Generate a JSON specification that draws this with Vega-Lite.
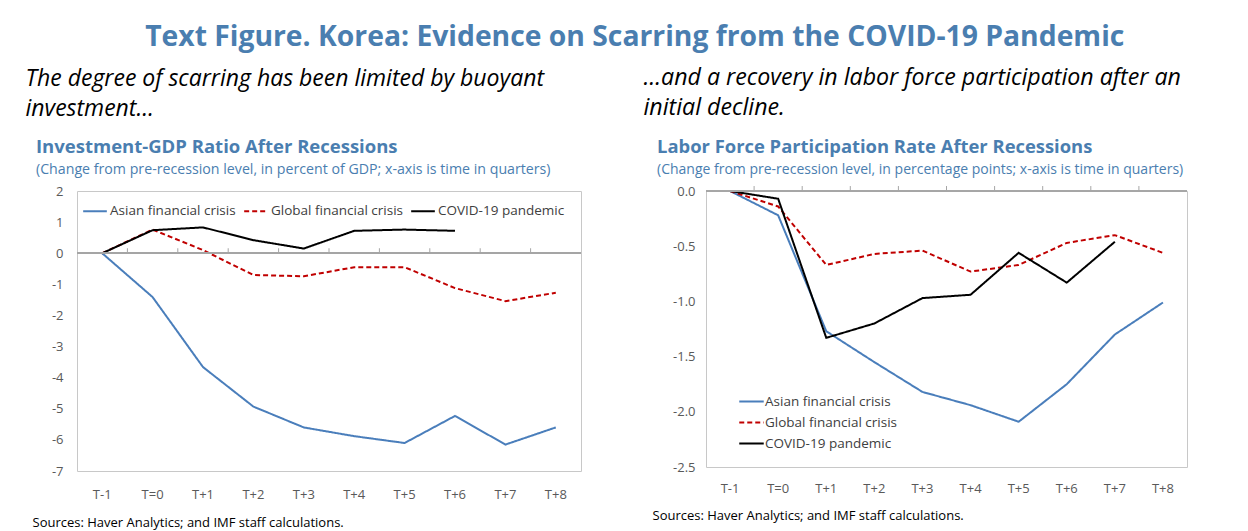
{
  "$schema": "https://vega.github.io/schema/vega-lite/v6.json",
  "background": "white",
  "padding": {"left": 25, "top": 22, "right": 5, "bottom": 0},
  "title": {
    "text": "Text Figure. Korea: Evidence on Scarring from the COVID-19 Pandemic",
    "anchor": "middle",
    "font": "Open Sans",
    "fontSize": 28.3,
    "fontWeight": "bold",
    "color": "#4A7EB0",
    "offset": 14,
    "dx": 28
  },
  "config": {
    "locale": {"number": {"decimal": ".", "thousands": ",", "grouping": [3], "currency": ["$", ""], "minus": "-"}},
    "view": {"stroke": "#c8c8c8", "strokeWidth": 1},
    "font": "Open Sans",
    "axis": {"grid": false, "labelFont": "Open Sans", "labelColor": "#595959", "labelFontSize": 13, "titleFont": "Open Sans", "labelOverlap": false},
    "legend": {"labelFont": "Open Sans", "labelFontSize": 13.5, "labelColor": "#404040"}
  },
  "datasets": {
    "inv": [
      {"t": "T-1", "s": "Asian financial crisis", "v": 0},
      {"t": "T=0", "s": "Asian financial crisis", "v": -1.41},
      {"t": "T+1", "s": "Asian financial crisis", "v": -3.66},
      {"t": "T+2", "s": "Asian financial crisis", "v": -4.93},
      {"t": "T+3", "s": "Asian financial crisis", "v": -5.6},
      {"t": "T+4", "s": "Asian financial crisis", "v": -5.88},
      {"t": "T+5", "s": "Asian financial crisis", "v": -6.1},
      {"t": "T+6", "s": "Asian financial crisis", "v": -5.23},
      {"t": "T+7", "s": "Asian financial crisis", "v": -6.15},
      {"t": "T+8", "s": "Asian financial crisis", "v": -5.6},
      {"t": "T-1", "s": "Global financial crisis", "v": 0},
      {"t": "T=0", "s": "Global financial crisis", "v": 0.76},
      {"t": "T+1", "s": "Global financial crisis", "v": 0.1},
      {"t": "T+2", "s": "Global financial crisis", "v": -0.7},
      {"t": "T+3", "s": "Global financial crisis", "v": -0.74},
      {"t": "T+4", "s": "Global financial crisis", "v": -0.45},
      {"t": "T+5", "s": "Global financial crisis", "v": -0.45},
      {"t": "T+6", "s": "Global financial crisis", "v": -1.12},
      {"t": "T+7", "s": "Global financial crisis", "v": -1.54},
      {"t": "T+8", "s": "Global financial crisis", "v": -1.27},
      {"t": "T-1", "s": "COVID-19 pandemic", "v": 0},
      {"t": "T=0", "s": "COVID-19 pandemic", "v": 0.74},
      {"t": "T+1", "s": "COVID-19 pandemic", "v": 0.83},
      {"t": "T+2", "s": "COVID-19 pandemic", "v": 0.42},
      {"t": "T+3", "s": "COVID-19 pandemic", "v": 0.15},
      {"t": "T+4", "s": "COVID-19 pandemic", "v": 0.72},
      {"t": "T+5", "s": "COVID-19 pandemic", "v": 0.76},
      {"t": "T+6", "s": "COVID-19 pandemic", "v": 0.72}
    ],
    "lfp": [
      {"t": "T-1", "s": "Asian financial crisis", "v": 0},
      {"t": "T=0", "s": "Asian financial crisis", "v": -0.22},
      {"t": "T+1", "s": "Asian financial crisis", "v": -1.27},
      {"t": "T+2", "s": "Asian financial crisis", "v": -1.55},
      {"t": "T+3", "s": "Asian financial crisis", "v": -1.82},
      {"t": "T+4", "s": "Asian financial crisis", "v": -1.94},
      {"t": "T+5", "s": "Asian financial crisis", "v": -2.09},
      {"t": "T+6", "s": "Asian financial crisis", "v": -1.75},
      {"t": "T+7", "s": "Asian financial crisis", "v": -1.3},
      {"t": "T+8", "s": "Asian financial crisis", "v": -1.01},
      {"t": "T-1", "s": "Global financial crisis", "v": 0},
      {"t": "T=0", "s": "Global financial crisis", "v": -0.14},
      {"t": "T+1", "s": "Global financial crisis", "v": -0.67},
      {"t": "T+2", "s": "Global financial crisis", "v": -0.57},
      {"t": "T+3", "s": "Global financial crisis", "v": -0.54},
      {"t": "T+4", "s": "Global financial crisis", "v": -0.73},
      {"t": "T+5", "s": "Global financial crisis", "v": -0.67},
      {"t": "T+6", "s": "Global financial crisis", "v": -0.47},
      {"t": "T+7", "s": "Global financial crisis", "v": -0.4},
      {"t": "T+8", "s": "Global financial crisis", "v": -0.56},
      {"t": "T-1", "s": "COVID-19 pandemic", "v": 0},
      {"t": "T=0", "s": "COVID-19 pandemic", "v": -0.07},
      {"t": "T+1", "s": "COVID-19 pandemic", "v": -1.33},
      {"t": "T+2", "s": "COVID-19 pandemic", "v": -1.2},
      {"t": "T+3", "s": "COVID-19 pandemic", "v": -0.97},
      {"t": "T+4", "s": "COVID-19 pandemic", "v": -0.94},
      {"t": "T+5", "s": "COVID-19 pandemic", "v": -0.56},
      {"t": "T+6", "s": "COVID-19 pandemic", "v": -0.83},
      {"t": "T+7", "s": "COVID-19 pandemic", "v": -0.46}
    ],
    "boundaries": [
      {"t": "T=0"}, {"t": "T+1"}, {"t": "T+2"}, {"t": "T+3"}, {"t": "T+4"}, {"t": "T+5"}, {"t": "T+6"}, {"t": "T+7"}, {"t": "T+8"}
    ]
  },
  "spacing": 61,
  "resolve": {"legend": {"color": "independent", "strokeDash": "independent"}, "scale": {"color": "independent", "strokeDash": "independent"}},
  "hconcat": [
    {
      "title": {"text": ["The degree of scarring has been limited by buoyant", "investment…"], "anchor": "start", "font": "Open Sans", "fontStyle": "italic", "fontWeight": "normal", "fontSize": 23, "color": "#000000", "lineHeight": 30, "offset": 17, "dx": -6},
      "vconcat": [
        {
          "width": 504,
          "height": 280,
          "title": {"text": "Investment-GDP Ratio After Recessions", "subtitle": "(Change from pre-recession level, in percent of GDP; x-axis is time in quarters)", "anchor": "start", "font": "Open Sans", "fontSize": 18.5, "fontWeight": "bold", "color": "#4A7EB0", "subtitleFont": "Open Sans", "subtitleFontSize": 14.2, "subtitleColor": "#4A7EB0", "subtitlePadding": 6, "offset": 8, "dx": 4},
          "layer": [
            {
              "data": {"name": "inv"},
              "mark": {"type": "line", "strokeWidth": 2},
              "encoding": {
                "x": {"field": "t", "type": "ordinal", "sort": ["T-1", "T=0", "T+1", "T+2", "T+3", "T+4", "T+5", "T+6", "T+7", "T+8"], "bandPosition": 0.5, "scale": {"type": "band", "paddingInner": 0, "paddingOuter": 0},
                  "axis": {"orient": "bottom", "domain": false, "ticks": false, "labelAngle": 0, "labelPadding": 17, "labelOverlap": false, "title": "Sources: Haver Analytics; and IMF staff calculations.", "titleAnchor": "start", "titleAlign": "left", "titleX": -45, "titleY": 55, "titleBaseline": "alphabetic", "titleFontSize": 13, "titleFontWeight": "normal", "titleColor": "#000000"}},
                "y": {"field": "v", "type": "quantitative", "scale": {"domain": [-7, 2], "nice": false}, "axis": {"values": [-7, -6, -5, -4, -3, -2, -1, 0, 1, 2], "labelOverlap": false, "domain": false, "ticks": false, "labelPadding": 14, "title": null}},
                "color": {"field": "s", "type": "nominal", "scale": {"domain": ["Asian financial crisis", "Global financial crisis", "COVID-19 pandemic"], "range": ["#4A7EBB", "#C00000", "#000000"]},
                  "legend": {"orient": "none", "legendX": 5, "legendY": 7, "direction": "horizontal", "title": null, "symbolType": "stroke", "symbolSize": 560, "symbolStrokeWidth": 2, "labelOffset": 2, "columnPadding": 4}},
                "strokeDash": {"field": "s", "type": "nominal", "scale": {"domain": ["Asian financial crisis", "Global financial crisis", "COVID-19 pandemic"], "range": [[1, 0], [5, 3], [1, 0]]}, "legend": {"orient": "none", "legendX": 5, "legendY": 7, "direction": "horizontal", "title": null, "symbolType": "stroke", "symbolSize": 560, "symbolStrokeWidth": 2, "labelOffset": 2, "columnPadding": 4}}
              }
            },
            {
              "data": {"name": "inv"},
              "mark": {"type": "rule", "color": "#a6a6a6", "strokeWidth": 1},
              "encoding": {"y": {"datum": 0, "type": "quantitative", "axis": {"values": [-7, -6, -5, -4, -3, -2, -1, 0, 1, 2], "labelOverlap": false, "domain": false, "ticks": false, "labelPadding": 14, "title": null}}}
            },
            {
              "data": {"name": "boundaries"},
              "mark": {"type": "rule", "color": "#a6a6a6", "strokeWidth": 1},
              "encoding": {
                "x": {"field": "t", "type": "ordinal", "sort": ["T-1", "T=0", "T+1", "T+2", "T+3", "T+4", "T+5", "T+6", "T+7", "T+8"], "bandPosition": 0,
                  "axis": {"orient": "bottom", "domain": false, "ticks": false, "labelAngle": 0, "labelPadding": 17, "labelOverlap": false, "title": "Sources: Haver Analytics; and IMF staff calculations.", "titleAnchor": "start", "titleAlign": "left", "titleX": -45, "titleY": 55, "titleBaseline": "alphabetic", "titleFontSize": 13, "titleFontWeight": "normal", "titleColor": "#000000"}},
                "y": {"datum": 0, "type": "quantitative", "axis": {"values": [-7, -6, -5, -4, -3, -2, -1, 0, 1, 2], "labelOverlap": false, "domain": false, "ticks": false, "labelPadding": 14, "title": null}},
                "y2": {"datum": 0.16}
              }
            }
          ]
        }
      ]
    },
    {
      "title": {"text": ["…and a recovery in labor force participation after an", "initial decline."], "anchor": "start", "font": "Open Sans", "fontStyle": "italic", "fontWeight": "normal", "fontSize": 23.2, "color": "#000000", "lineHeight": 30, "offset": 17, "dx": -8},
      "vconcat": [
        {
          "width": 481,
          "height": 276,
          "title": {"text": "Labor Force Participation Rate After Recessions", "subtitle": "(Change from pre-recession level, in percentage points; x-axis is time in quarters)", "anchor": "start", "font": "Open Sans", "fontSize": 18.4, "fontWeight": "bold", "color": "#4A7EB0", "subtitleFont": "Open Sans", "subtitleFontSize": 14, "subtitleColor": "#4A7EB0", "subtitlePadding": 7, "offset": 8, "dx": 5},
          "layer": [
            {
              "data": {"name": "lfp"},
              "mark": {"type": "line", "strokeWidth": 2},
              "encoding": {
                "x": {"field": "t", "type": "ordinal", "sort": ["T-1", "T=0", "T+1", "T+2", "T+3", "T+4", "T+5", "T+6", "T+7", "T+8"], "bandPosition": 0.5, "scale": {"type": "band", "paddingInner": 0, "paddingOuter": 0},
                  "axis": {"orient": "bottom", "domain": false, "ticks": false, "labelAngle": 0, "labelPadding": 15, "labelOverlap": false, "title": "Sources: Haver Analytics; and IMF staff calculations.", "titleAnchor": "start", "titleAlign": "left", "titleX": -54, "titleY": 52, "titleBaseline": "alphabetic", "titleFontSize": 13, "titleFontWeight": "normal", "titleColor": "#000000"}},
                "y": {"field": "v", "type": "quantitative", "scale": {"domain": [-2.5, 0], "nice": false}, "axis": {"values": [-2.5, -2, -1.5, -1, -0.5, 0], "format": ".1f", "labelOverlap": false, "domain": false, "ticks": false, "labelPadding": 11, "title": null}},
                "color": {"field": "s", "type": "nominal", "scale": {"domain": ["Asian financial crisis", "Global financial crisis", "COVID-19 pandemic"], "range": ["#4A7EBB", "#C00000", "#000000"]},
                  "legend": {"orient": "none", "legendX": 32, "legendY": 197, "direction": "vertical", "title": null, "symbolType": "stroke", "symbolSize": 600, "symbolStrokeWidth": 2, "labelOffset": 0, "rowPadding": 1}},
                "strokeDash": {"field": "s", "type": "nominal", "scale": {"domain": ["Asian financial crisis", "Global financial crisis", "COVID-19 pandemic"], "range": [[1, 0], [5, 3], [1, 0]]}, "legend": {"orient": "none", "legendX": 32, "legendY": 197, "direction": "vertical", "title": null, "symbolType": "stroke", "symbolSize": 600, "symbolStrokeWidth": 2, "labelOffset": 0, "rowPadding": 1}}
              }
            },
            {
              "data": {"name": "lfp"},
              "mark": {"type": "rule", "color": "#a6a6a6", "strokeWidth": 1},
              "encoding": {"y": {"datum": 0, "type": "quantitative", "axis": {"values": [-2.5, -2, -1.5, -1, -0.5, 0], "format": ".1f", "labelOverlap": false, "domain": false, "ticks": false, "labelPadding": 11, "title": null}}}
            },
            {
              "data": {"name": "boundaries"},
              "mark": {"type": "rule", "color": "#a6a6a6", "strokeWidth": 1},
              "encoding": {
                "x": {"field": "t", "type": "ordinal", "sort": ["T-1", "T=0", "T+1", "T+2", "T+3", "T+4", "T+5", "T+6", "T+7", "T+8"], "bandPosition": 0,
                  "axis": {"orient": "bottom", "domain": false, "ticks": false, "labelAngle": 0, "labelPadding": 15, "labelOverlap": false, "title": "Sources: Haver Analytics; and IMF staff calculations.", "titleAnchor": "start", "titleAlign": "left", "titleX": -54, "titleY": 52, "titleBaseline": "alphabetic", "titleFontSize": 13, "titleFontWeight": "normal", "titleColor": "#000000"}},
                "y": {"datum": 0, "type": "quantitative", "axis": {"values": [-2.5, -2, -1.5, -1, -0.5, 0], "format": ".1f", "labelOverlap": false, "domain": false, "ticks": false, "labelPadding": 11, "title": null}},
                "y2": {"datum": 0.045}
              }
            }
          ]
        }
      ]
    }
  ]
}
